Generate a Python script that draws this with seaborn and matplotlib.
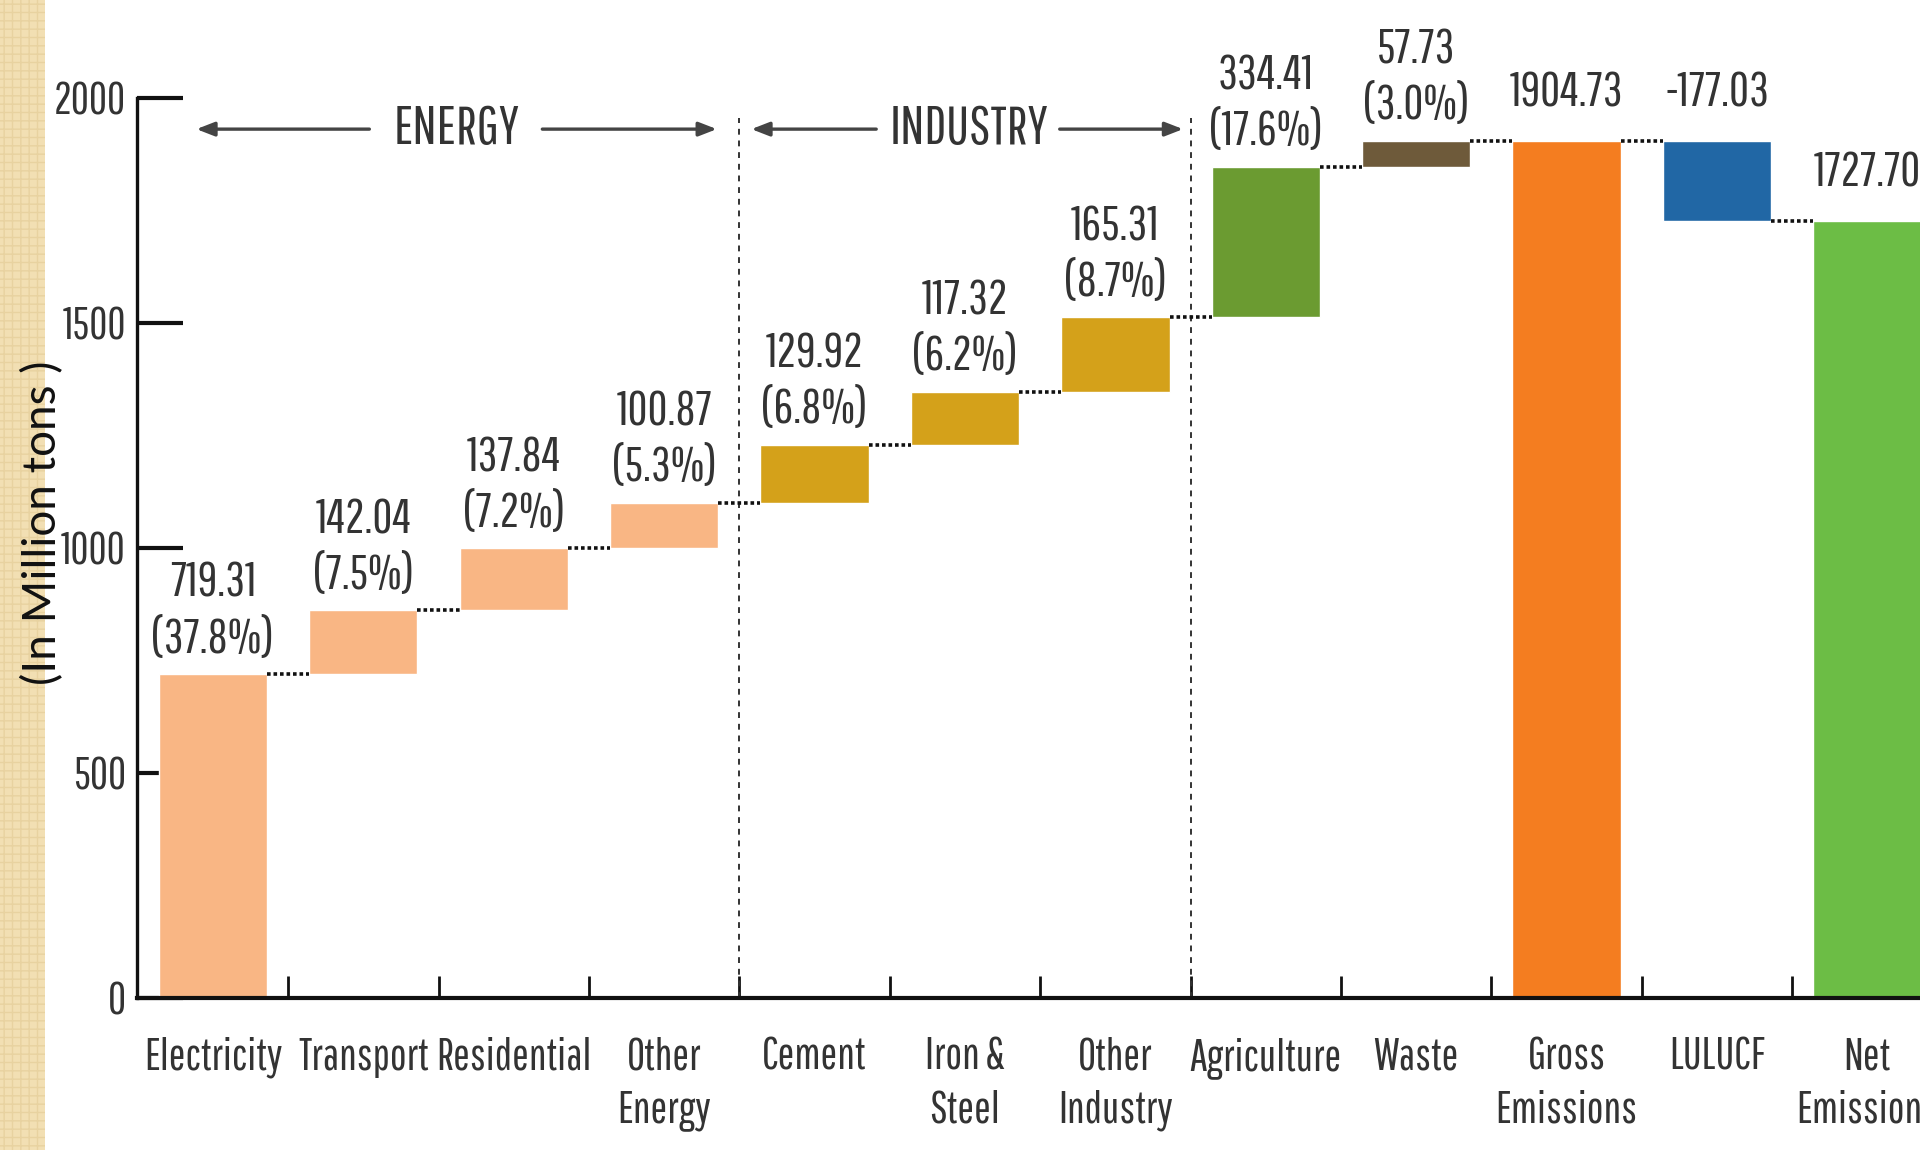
import numpy as np
import pandas as pd
import matplotlib
matplotlib.use('Agg')
import matplotlib.pyplot as plt
import matplotlib.patches as mpatches
import seaborn as sns

# ─────────────────────────────────────────
# Data
# ─────────────────────────────────────────
categories = ['Electricity', 'Transport', 'Residential', 'Other\nEnergy',
              'Cement', 'Iron &\nSteel', 'Other\nIndustry', 'Agriculture',
              'Waste', 'Gross\nEmissions', 'LULUCF', 'Net\nEmissions']
values = [719.31, 142.04, 137.84, 100.87, 129.92, 117.32, 165.31, 334.41,
          57.73, 1904.73, -177.03, 1727.70]
shares = ['37.8%', '7.5%', '7.2%', '5.3%', '6.8%', '6.2%', '8.7%', '17.6%',
          '3.0%', None, None, None]
kinds = ['step'] * 9 + ['total', 'step', 'total']
colors = ['#F9B684'] * 4 + ['#D4A11A'] * 3 + ['#6B9B31', '#6E5A3A',
                                               '#F47D20', '#2167A5', '#6CBD45']
group_names = ['ENERGY', 'INDUSTRY']
group_dividers = [3.5, 6.5]

# waterfall bottoms / tops
bottoms, tops = [], []
running = 0.0
for v, k in zip(values, kinds):
    if k == 'total':
        bottoms.append(0.0)
        tops.append(v)
        running = v
    else:
        lo, hi = sorted([running, running + v])
        bottoms.append(lo)
        tops.append(hi)
        running += v

df = pd.DataFrame({'cat': categories, 'top': tops, 'bottom': bottoms})

# ─────────────────────────────────────────
# Style
# ─────────────────────────────────────────
sns.set_theme(style='white')
plt.rcParams['font.family'] = ['Pathway Gothic One', 'Sofia Sans Extra Condensed',
                               'Barlow Condensed', 'Liberation Sans', 'DejaVu Sans']
txt_col = '#333333'

fig = plt.figure(figsize=(19.2, 11.5), dpi=100)
ax = fig.add_axes([137 / 1920, 0, 1 - 137 / 1920, 1])

bw = 0.72
sns.barplot(data=df, x='cat', y='top', hue='cat', palette=colors,
            legend=False, width=bw, saturation=1, ax=ax, zorder=2)
for p, b, t in zip(ax.patches, bottoms, tops):
    p.set_y(b)
    p.set_height(t - b)

ax.set_xlim(-0.505, 11.35)
ax.set_ylim(-338, 2218)
ax.set_axisbelow(True)

# spines
for s in ['top', 'right']:
    ax.spines[s].set_visible(False)
ax.spines['left'].set_bounds(0, 2000)
ax.spines['left'].set_linewidth(2.4)
ax.spines['left'].set_color('#111111')
ax.spines['bottom'].set_position(('data', 0))
ax.spines['bottom'].set_linewidth(3)
ax.spines['bottom'].set_color('#111111')

# y ticks
ax.set_yticks([0, 500, 1000, 1500, 2000])
ax.set_yticklabels(['0', '500', '1000', '1500', '2000'])
ax.tick_params(axis='y', direction='in', length=33, width=3, color='#111111',
               labelsize=32, labelcolor=txt_col, pad=8, left=True)

# x ticks: labels at centres, small ticks between categories
ax.set_xticks(range(len(categories)))
ax.set_xticklabels(categories, linespacing=1.35)
ax.set_xticks(np.arange(0.5, len(categories) - 1, 1), minor=True)
ax.tick_params(axis='x', which='major', length=0, labelsize=32,
               labelcolor=txt_col, pad=28)
ax.tick_params(axis='x', which='minor', direction='in', length=16, width=2,
               color='#111111', bottom=True)
ax.set_xlabel('')
ax.set_ylabel('')

# connectors between bars
levels = []
running = 0.0
for v, k in zip(values, kinds):
    running = v if k == 'total' else running + v
    levels.append(running)
for i in range(len(categories) - 1):
    ax.plot([i + bw / 2, i + 1 - bw / 2], [levels[i], levels[i]],
            color='#111111', lw=2.6, ls=(0, (1, 0.8)), zorder=3)

# value labels
for i, (v, s) in enumerate(zip(values, shares)):
    lab = f'{v:.2f}' if s is None else f'{v:.2f}\n({s})'
    off = 9 if s is not None else 18
    ax.annotate(lab, (i, tops[i]), xytext=(0, off), textcoords='offset points',
                ha='center', va='bottom', fontsize=35, color=txt_col,
                linespacing=1.3)

# group headers with arrows
arrow_y = 1931
head = dict(arrowstyle='-|>,head_length=0.9,head_width=0.35',
            color='#444444', lw=2.4, shrinkA=0, shrinkB=0)
header_layout = {'ENERGY': (1.62, -0.11, 1.04, 2.19, 3.35),
                 'INDUSTRY': (5.03, 3.58, 4.41, 5.63, 6.45)}
for name in group_names:
    mid, l_out, l_in, r_in, r_out = header_layout[name]
    ax.text(mid, arrow_y, name, ha='center', va='center', fontsize=39, color=txt_col)
    ax.annotate('', xy=(l_out, arrow_y), xytext=(l_in, arrow_y), arrowprops=head)
    ax.annotate('', xy=(r_out, arrow_y), xytext=(r_in, arrow_y), arrowprops=head)
for xv in group_dividers:
    ax.plot([xv, xv], [0, 1955], color='#333333', lw=1.4, ls=(0, (3, 3)), zorder=1)

# y axis title
fig.text(43 / 1920, 1 - 523 / 1150, '(In Million tons )', rotation=90,
         ha='center', va='center', fontsize=33, color='#111111',
         family=['Lato', 'DejaVu Sans'])

# decorative left strip
strip = mpatches.Rectangle((0, 0), 45 / 1920, 1, transform=fig.transFigure,
                           facecolor='#F2DFB3', edgecolor='#E8D2A0', hatch='++',
                           lw=0, zorder=-1)
fig.patches.append(strip)

fig.savefig('out.png', dpi=100)
